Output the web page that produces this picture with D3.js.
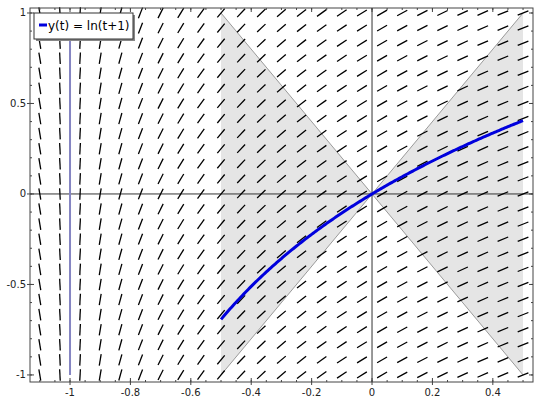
<!DOCTYPE html>
<html><head><meta charset="utf-8">
<script src="https://cdn.jsdelivr.net/npm/d3@7"></script>
<style>html,body{margin:0;padding:0;background:#fff;}svg{display:block;}</style>
</head><body>
<svg id="c" width="540" height="403"></svg>
<script>
// ---- data ----
const xTicks = [-1, -0.8, -0.6, -0.4, -0.2, 0, 0.2, 0.4];
const xTickLabels = ["-1", "-0.8", "-0.6", "-0.4", "-0.2", "0", "0.2", "0.4"];
const yTicks = [-1, -0.5, 0, 0.5, 1];
const yTickLabels = ["-1", "-0.5", "0", "0.5", "1"];
const fieldTRange = [-1.1, 0.5];   // slope field columns, 25 points
const fieldYRange = [-1, 1];       // slope field rows, 25 points
const fieldPoints = 25;
const solutionRange = [-0.5, 0.5]; // y(t) = ln(t+1)
const coneLeft = [[-0.5, 1], [-0.5, -1], [0, 0]];
const coneRight = [[0.5, 1], [0.5, -1], [0, 0]];
const coneEdges = [[[-0.5, 1], [0.5, -1]], [[-0.5, -1], [0.5, 1]]];
const asymptoteT = -1;
const legendLabel = "y(t) = ln(t+1)";

const slope = t => 1 / (t + 1);           // ODE y' = 1/(t+1)
const solution = t => Math.log(t + 1);

// ---- layout ----
const svg = d3.select("#c");
const L = 30, R = 533, T = 8, B = 382;
const x = d3.scaleLinear().domain([-1.1325, 0.533]).range([L, R]);
const y = d3.scaleLinear().domain([-1.039, 1.0276]).range([B, T]);

// cone fill
const poly = d3.line().x(d => x(d[0])).y(d => y(d[1]));
[coneLeft, coneRight].forEach(c => {
  svg.append("path").attr("d", poly(c) + "Z").attr("fill", "#e5e5e5");
});
coneEdges.forEach(e => {
  svg.append("path").attr("d", poly(e)).attr("stroke", "#9a9a9a").attr("stroke-width", 1).attr("fill", "none");
});

// axes lines through origin
svg.append("line").attr("x1", x(0)).attr("x2", x(0)).attr("y1", T).attr("y2", B).attr("stroke", "#333").attr("stroke-width", 1);
svg.append("line").attr("x1", L).attr("x2", R).attr("y1", y(0)).attr("y2", y(0)).attr("stroke", "#333").attr("stroke-width", 1);

// asymptote
svg.append("line").attr("x1", x(asymptoteT)).attr("x2", x(asymptoteT)).attr("y1", y(1)).attr("y2", y(-1))
  .attr("stroke", "#8585c2").attr("stroke-width", 2);

// slope field
const tStep = (fieldTRange[1] - fieldTRange[0]) / (fieldPoints - 1);
const yStep = (fieldYRange[1] - fieldYRange[0]) / (fieldPoints - 1);
const cols = d3.range(fieldPoints).map(i => fieldTRange[0] + i * tStep);
const rows = d3.range(fieldPoints).map(j => fieldYRange[0] + j * yStep);
const segLen = 11.5;
const pxX = x(1) - x(0), pxY = y(0) - y(1);
const segs = [];
cols.forEach(t => rows.forEach(v => {
  const f = slope(t);
  let dx = pxX, dy = -pxY * f;
  const n = Math.hypot(dx, dy);
  dx = dx / n * segLen / 2; dy = dy / n * segLen / 2;
  segs.push({cx: x(t), cy: y(v), dx, dy});
}));
svg.append("g").selectAll("line").data(segs).join("line")
  .attr("x1", d => d.cx - d.dx).attr("y1", d => d.cy - d.dy)
  .attr("x2", d => d.cx + d.dx).attr("y2", d => d.cy + d.dy)
  .attr("stroke", "#000").attr("stroke-width", 1.3);

// solution curve
const ts = d3.range(0, 201).map(i => solutionRange[0] + i * (solutionRange[1] - solutionRange[0]) / 200);
svg.append("path").attr("d", d3.line().x(t => x(t)).y(t => y(solution(t)))(ts))
  .attr("fill", "none").attr("stroke", "#0000dd").attr("stroke-width", 3);

// frame
svg.append("rect").attr("x", L).attr("y", T).attr("width", R - L).attr("height", B - T)
  .attr("fill", "none").attr("stroke", "#444").attr("stroke-width", 1);

// ticks
const g = svg.append("g").attr("stroke", "#444").attr("stroke-width", 1);
const xMinor = d3.range(-22, 11).map(i => i * 0.05).filter(v => v >= -1.13 && v <= 0.53);
const yMinor = d3.range(-10, 11).map(i => i * 0.1);
xMinor.forEach(v => {
  g.append("line").attr("x1", x(v)).attr("x2", x(v)).attr("y1", B).attr("y2", B - 2);
  g.append("line").attr("x1", x(v)).attr("x2", x(v)).attr("y1", T).attr("y2", T + 2);
});
yMinor.forEach(v => {
  g.append("line").attr("y1", y(v)).attr("y2", y(v)).attr("x1", L).attr("x2", L + 2);
  g.append("line").attr("y1", y(v)).attr("y2", y(v)).attr("x1", R).attr("x2", R - 2);
});
xTicks.forEach(v => {
  g.append("line").attr("x1", x(v)).attr("x2", x(v)).attr("y1", B + 3).attr("y2", B - 4);
  g.append("line").attr("x1", x(v)).attr("x2", x(v)).attr("y1", T - 0).attr("y2", T + 4);
});
yTicks.forEach(v => {
  g.append("line").attr("y1", y(v)).attr("y2", y(v)).attr("x1", L - 3).attr("x2", L + 4);
  g.append("line").attr("y1", y(v)).attr("y2", y(v)).attr("x1", R).attr("x2", R - 4);
});

// tick labels
svg.append("g").selectAll("text").data(xTicks).join("text")
  .attr("x", d => x(d)).attr("y", B + 14).attr("text-anchor", "middle")
  .attr("font-family", "DejaVu Sans").attr("font-size", 10).attr("fill", "#222")
  .text((d, i) => xTickLabels[i]);
svg.append("g").selectAll("text").data(yTicks).join("text")
  .attr("x", L - 4).attr("y", d => y(d) + 3.5).attr("text-anchor", "end")
  .attr("font-family", "DejaVu Sans").attr("font-size", 10).attr("fill", "#222")
  .text((d, i) => yTickLabels[i]);

// legend
const lg = svg.append("g");
lg.append("rect").attr("x", 36).attr("y", 15).attr("width", 99).attr("height", 26).attr("fill", "#888");
lg.append("rect").attr("x", 34).attr("y", 13).attr("width", 99).attr("height", 26).attr("fill", "#fff").attr("stroke", "#333").attr("stroke-width", 1);
lg.append("line").attr("x1", 39).attr("x2", 47).attr("y1", 25).attr("y2", 25).attr("stroke", "#0000dd").attr("stroke-width", 3);
lg.append("text").attr("x", 48).attr("y", 30).attr("font-family", "DejaVu Sans").attr("font-size", 12).attr("fill", "#000").text(legendLabel);
</script>
</body></html>
